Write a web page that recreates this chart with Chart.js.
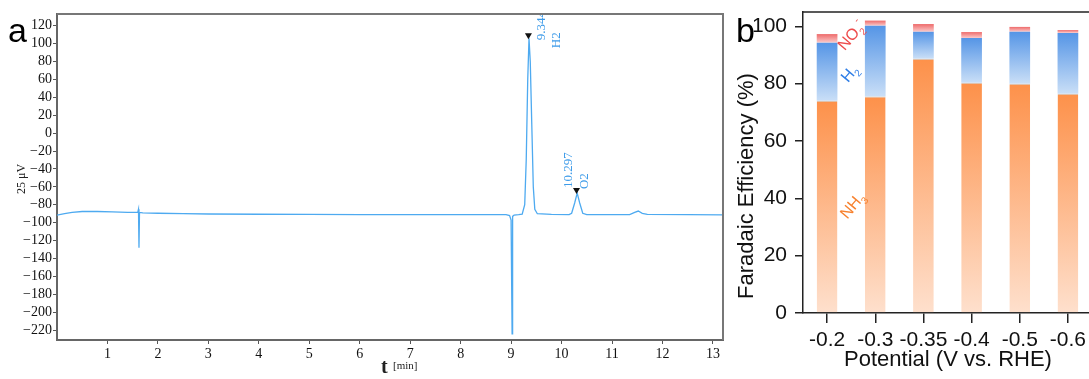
<!DOCTYPE html>
<html>
<head>
<meta charset="utf-8">
<script src="https://cdn.jsdelivr.net/npm/chart.js@4.4.1/dist/chart.umd.min.js"></script>
<style>
  html, body { margin: 0; padding: 0; background: #fff; }
  body { width: 1089px; height: 379px; overflow: hidden; position: relative; }
  #gc { position: absolute; left: 0; top: 0; }
  #fe { position: absolute; left: 730px; top: 0; }
</style>
</head>
<body>
<canvas id="gc" width="740" height="379"></canvas>
<canvas id="fe" width="370" height="379"></canvas>
<script>
// ---- panel a: gas chromatogram ----
const chromTime = [0.0, 0.15, 0.3, 0.5, 0.8, 1.1, 1.4, 1.6, 1.615, 1.625, 1.635, 1.7, 2.0, 2.5, 3.0, 4.0, 5.0, 6.0, 7.0, 8.0, 8.9,
  8.97, 9.0, 9.02, 9.03, 9.06, 9.15, 9.22, 9.27, 9.30, 9.33, 9.355, 9.38, 9.41, 9.44, 9.47, 9.52, 9.8,
  10.15, 10.2, 10.26, 10.31, 10.36, 10.42, 10.5, 11.35, 11.45, 11.52, 11.6, 11.7, 12.5, 13.2];
const chromSignal = [-91.5, -90, -88.5, -87.5, -87.5, -88, -88.5, -88.5, -85, -128, -88.5, -89, -89.5, -90, -90.3, -90.6, -90.8, -91, -91, -91, -91,
  -92, -97, -224, -93, -91.5, -91, -90.5, -80, -30, 60, 106, 80, 10, -60, -85, -90, -90.8,
  -91, -89.5, -78, -67, -78, -89.5, -91, -91, -88.5, -87, -89.5, -90.8, -91, -91.2];
const xTickValues = [1, 2, 3, 4, 5, 6, 7, 8, 9, 10, 11, 12, 13];
const yTickValues = [120, 100, 80, 60, 40, 20, 0, -20, -40, -60, -80, -100, -120, -140, -160, -180, -200, -220];
const peakTimes = [9.344, 10.297];
const peakHeights = [106, -67];
const peakNames = ['H2', 'O2'];

// ---- panel b: Faradaic efficiency ----
const potentials = ['-0.2', '-0.3', '-0.35', '-0.4', '-0.5', '-0.6'];
const feNH3 = [74.0, 75.5, 88.7, 80.3, 80.0, 76.5];
const feH2 = [20.3, 24.7, 9.4, 15.6, 18.1, 21.2];
const feNO2 = [3.0, 1.8, 2.7, 2.1, 1.7, 1.0];
const feTicks = [0, 20, 40, 60, 80, 100];

const serif = '"Liberation Serif", "DejaVu Serif", serif';
const sans = '"Liberation Sans", Arial, sans-serif';
const traceBlue = '#4eaaf0';

// keep scale label overhang from pushing the plot area around
function noOverhang(s) {
  s.paddingTop = 0;
  s.paddingBottom = 0;
  s.paddingLeft = 0;
  s.paddingRight = 0;
}

// frame, labels and peak marks for the chromatogram
const gcDecor = {
  id: 'gcDecor',
  afterDraw(chart) {
    const { ctx, chartArea: a, scales } = chart;
    ctx.save();
    ctx.strokeStyle = '#777';
    ctx.lineWidth = 2;
    ctx.beginPath();
    ctx.moveTo(a.left, a.top);
    ctx.lineTo(a.right, a.top);
    ctx.lineTo(a.right, a.bottom);
    ctx.stroke();

    // peak markers + rotated retention-time labels
    const offs = [
      { tx: 13, ty: 2, nx: 28, ny: 10 },
      { tx: -8, ty: -5, nx: 8, ny: -4 }
    ];
    ctx.beginPath();
    ctx.rect(a.left, a.top + 1, a.right - a.left, a.bottom - a.top);
    ctx.clip();
    peakTimes.forEach((t, i) => {
      const px = scales.x.getPixelForValue(t);
      const py = scales.y.getPixelForValue(peakHeights[i]);
      ctx.fillStyle = '#111';
      ctx.beginPath();
      ctx.moveTo(px - 3.5, py - 5);
      ctx.lineTo(px + 3.5, py - 5);
      ctx.lineTo(px, py + 1);
      ctx.closePath();
      ctx.fill();
      ctx.fillStyle = '#3d9be9';
      ctx.font = '13px ' + serif;
      ctx.textAlign = 'left';
      ctx.textBaseline = 'middle';
      const o = offs[i];
      [[t.toFixed(3), o.tx, o.ty], [peakNames[i], o.nx, o.ny]].forEach(([s, dx, dy]) => {
        ctx.save();
        ctx.translate(px + dx, py + dy);
        ctx.rotate(-Math.PI / 2);
        ctx.fillText(s, 0, 0);
        ctx.restore();
      });
    });
    ctx.restore();

    // axis titles and panel letter
    ctx.save();
    ctx.fillStyle = '#222';
    ctx.textBaseline = 'middle';
    ctx.textAlign = 'center';
    ctx.font = '12px ' + serif;
    ctx.save();
    ctx.translate(22, 179);
    ctx.rotate(-Math.PI / 2);
    ctx.fillText('25 μV', 0, 0);
    ctx.restore();
    ctx.textAlign = 'left';
    ctx.font = 'bold 20px ' + serif;
    ctx.fillText('t', 381, 368);
    ctx.font = '11px ' + serif;
    ctx.fillText('[min]', 393, 366);
    ctx.fillStyle = '#000';
    ctx.font = '34px ' + sans;
    ctx.textBaseline = 'alphabetic';
    ctx.fillText('a', 8, 42);
    ctx.restore();
  }
};

new Chart(document.getElementById('gc'), {
  type: 'line',
  data: {
    datasets: [{
      data: chromTime.map((t, i) => ({ x: t, y: chromSignal[i] })),
      borderColor: traceBlue,
      borderWidth: 1.3,
      pointRadius: 0,
      tension: 0
    }]
  },
  options: {
    responsive: false,
    animation: false,
    layout: { padding: { left: 0, right: 17, top: 14, bottom: 0 } },
    plugins: { legend: { display: false }, tooltip: { enabled: false } },
    scales: {
      x: {
        type: 'linear',
        min: 0,
        max: 13.2,
        afterBuildTicks: s => { s.ticks = xTickValues.map(v => ({ value: v })); },
        afterFit: s => { s.height = 39; noOverhang(s); },
        grid: { drawOnChartArea: false, tickLength: 4, color: '#555' },
        border: { color: '#666', width: 2 },
        ticks: { font: { family: serif, size: 14 }, color: '#111', padding: 2, maxRotation: 0, autoSkip: false }
      },
      y: {
        min: -231,
        max: 133,
        afterBuildTicks: s => { s.ticks = yTickValues.map(v => ({ value: v })); },
        afterFit: s => { s.width = 57; noOverhang(s); },
        grid: { drawOnChartArea: false, tickLength: 4, color: '#555' },
        border: { color: '#666', width: 2 },
        ticks: {
          font: { family: serif, size: 14 },
          color: '#111',
          padding: 1,
          autoSkip: false,
          callback: v => (v < 0 ? '\u2212' + Math.abs(v) : String(v))
        }
      }
    }
  },
  plugins: [gcDecor]
});

// vertical gradient for each stacked segment
const stacks = [feNH3, feH2, feNO2];
function segmentFill(level, topColor, bottomColor) {
  return c => {
    const chart = c.chart;
    if (!chart.chartArea || c.type !== 'data') return topColor;
    const i = c.dataIndex;
    let base = 0;
    for (let k = 0; k < level; k++) base += stacks[k][i];
    const top = base + stacks[level][i];
    const y = chart.scales.y;
    const g = chart.ctx.createLinearGradient(0, y.getPixelForValue(top), 0, y.getPixelForValue(base));
    g.addColorStop(0, topColor);
    g.addColorStop(1, bottomColor);
    return g;
  };
}

function drawChem(ctx, parts, cx, cy, angle, color, size) {
  ctx.save();
  ctx.translate(cx, cy);
  ctx.rotate(angle);
  ctx.fillStyle = color;
  const big = size + 'px ' + sans;
  const small = Math.round(size * 0.65) + 'px ' + sans;
  let w = 0;
  parts.forEach(p => { ctx.font = p.s ? small : big; p.w = ctx.measureText(p.t).width; w += p.w; });
  let x = -w / 2;
  ctx.textBaseline = 'alphabetic';
  ctx.textAlign = 'left';
  parts.forEach(p => {
    ctx.font = p.s ? small : big;
    const dy = p.s === 'sub' ? size * 0.28 : p.s === 'sup' ? -size * 0.5 : 0;
    ctx.fillText(p.t, x, size * 0.36 + dy);
    x += p.w;
  });
  ctx.restore();
}

const feDecor = {
  id: 'feDecor',
  afterDraw(chart) {
    const { ctx, chartArea: a } = chart;
    ctx.save();
    ctx.strokeStyle = '#222';
    ctx.lineWidth = 1.5;
    ctx.beginPath();
    ctx.moveTo(a.left, a.top);
    ctx.lineTo(a.right, a.top);
    ctx.stroke();

    ctx.fillStyle = '#111';
    ctx.textAlign = 'center';
    ctx.textBaseline = 'middle';
    ctx.font = '22px ' + sans;
    ctx.save();
    ctx.translate(17, 186);
    ctx.rotate(-Math.PI / 2);
    ctx.fillText('Faradaic Efficiency (%)', 0, 0);
    ctx.restore();
    ctx.fillText('Potential (V vs. RHE)', 218, 360);

    ctx.textAlign = 'left';
    ctx.textBaseline = 'alphabetic';
    ctx.fillStyle = '#000';
    ctx.font = '34px ' + sans;
    ctx.fillText('b', 6, 42);

    const ang = -50 * Math.PI / 180;
    drawChem(ctx, [{ t: 'NO' }, { t: '2', s: 'sub' }, { t: '-', s: 'sup' }], 121, 35, ang, '#ee4b4b', 16);
    drawChem(ctx, [{ t: 'H' }, { t: '2', s: 'sub' }], 119, 73, ang, '#2f7ee6', 16);
    drawChem(ctx, [{ t: 'NH' }, { t: '3', s: 'sub' }], 122, 205, ang, '#f7822f', 16);
    ctx.restore();
  }
};

new Chart(document.getElementById('fe'), {
  type: 'bar',
  data: {
    labels: potentials,
    datasets: [
      { label: 'NH3', data: feNH3, backgroundColor: segmentFill(0, '#fd914a', '#fee0cd'),
        borderColor: '#c9c2bc', borderWidth: { top: 1, left: 0, right: 0, bottom: 0 }, borderSkipped: false },
      { label: 'H2', data: feH2, backgroundColor: segmentFill(1, '#5595e6', '#cadff7') },
      { label: 'NO2-', data: feNO2, backgroundColor: segmentFill(2, '#ee6a6a', '#fbcaca') }
    ]
  },
  options: {
    responsive: false,
    animation: false,
    layout: { padding: { left: 0, right: 8, top: 12, bottom: 0 } },
    plugins: { legend: { display: false }, tooltip: { enabled: false } },
    datasets: { bar: { categoryPercentage: 1, barPercentage: 0.43 } },
    scales: {
      x: {
        stacked: true,
        offset: true,
        afterFit: s => { s.height = 66; noOverhang(s); },
        grid: { drawOnChartArea: false, offset: false, tickLength: 10, color: '#222', lineWidth: 1.5 },
        border: { color: '#222', width: 1.5 },
        ticks: { font: { family: sans, size: 21 }, color: '#111', padding: 5, maxRotation: 0, autoSkip: false }
      },
      y: {
        stacked: true,
        min: 0,
        max: 105,
        afterBuildTicks: s => { s.ticks = feTicks.map(v => ({ value: v })); },
        afterFit: s => { s.width = 73; noOverhang(s); },
        grid: { drawOnChartArea: false, tickLength: 8, color: '#222', lineWidth: 1.5 },
        border: { color: '#222', width: 1.5 },
        ticks: { font: { family: sans, size: 21 }, color: '#111', padding: 8 }
      }
    }
  },
  plugins: [feDecor]
});
</script>
</body>
</html>
